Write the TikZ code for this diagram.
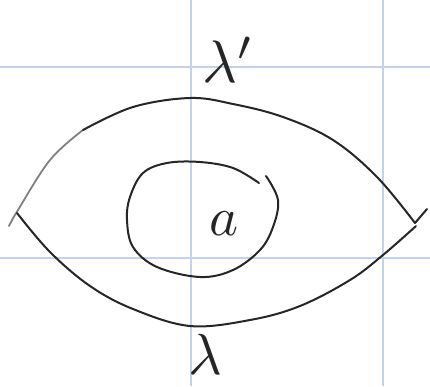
\documentclass[tikz,border=0pt]{standalone}
\usepackage{graphicx}
\begin{document}
\begin{tikzpicture}[x=1pt,y=-1pt,
  gridline/.style={draw={rgb,255:red,196;green,210;blue,234},line width=1.2pt},
  pen/.style={draw=black!85,line width=2pt,line cap=round,line join=round},
  lightpen/.style={draw=black!50,line width=1.8pt,line cap=round,line join=round},
  hand/.style={inner sep=0pt,text=black!85}]
\useasboundingbox (0,0) rectangle (430,386);
% grid
\draw[gridline] (191,0) -- (191,386);
\draw[gridline] (383,0) -- (383,386);
\draw[gridline] (0,67) -- (430,67);
\draw[gridline] (0,258) -- (430,258);
% outer upper arc (light left part)
\draw[lightpen] plot[smooth,tension=0.6] coordinates {(9,226) (18,210) (50,160) (83,130)};
\draw[pen] plot[smooth,tension=0.6] coordinates {(83,130) (133,107) (190,98) (233,104) (283,117) (333,140) (377,177) (415,223)};
\draw[pen] (415,223) -- (427,209);
% outer lower arc
\draw[pen] plot[smooth,tension=0.6] coordinates {(17,213) (50,252) (90,286) (133,309) (190,326) (250,320) (300,306) (350,280) (383,255) (416,226)};
% inner loop
\draw[pen] plot[smooth,tension=0.6] coordinates {(259,183) (233,168) (200,162) (167,163) (143,173) (130,197) (127,220) (133,247) (157,267) (200,277) (233,270) (260,250) (273,227) (278,200) (266,176)};
% labels
\node[hand] (a) at (224,224) {\scalebox{5.5}{$a$}};
\node[hand,anchor=base] (lp) at (228,82) {\scalebox{6}{$\lambda'$}};
\node[hand,anchor=base] (l) at (205,374) {\scalebox{5.8}{$\lambda$}};
\end{tikzpicture}
\end{document}
